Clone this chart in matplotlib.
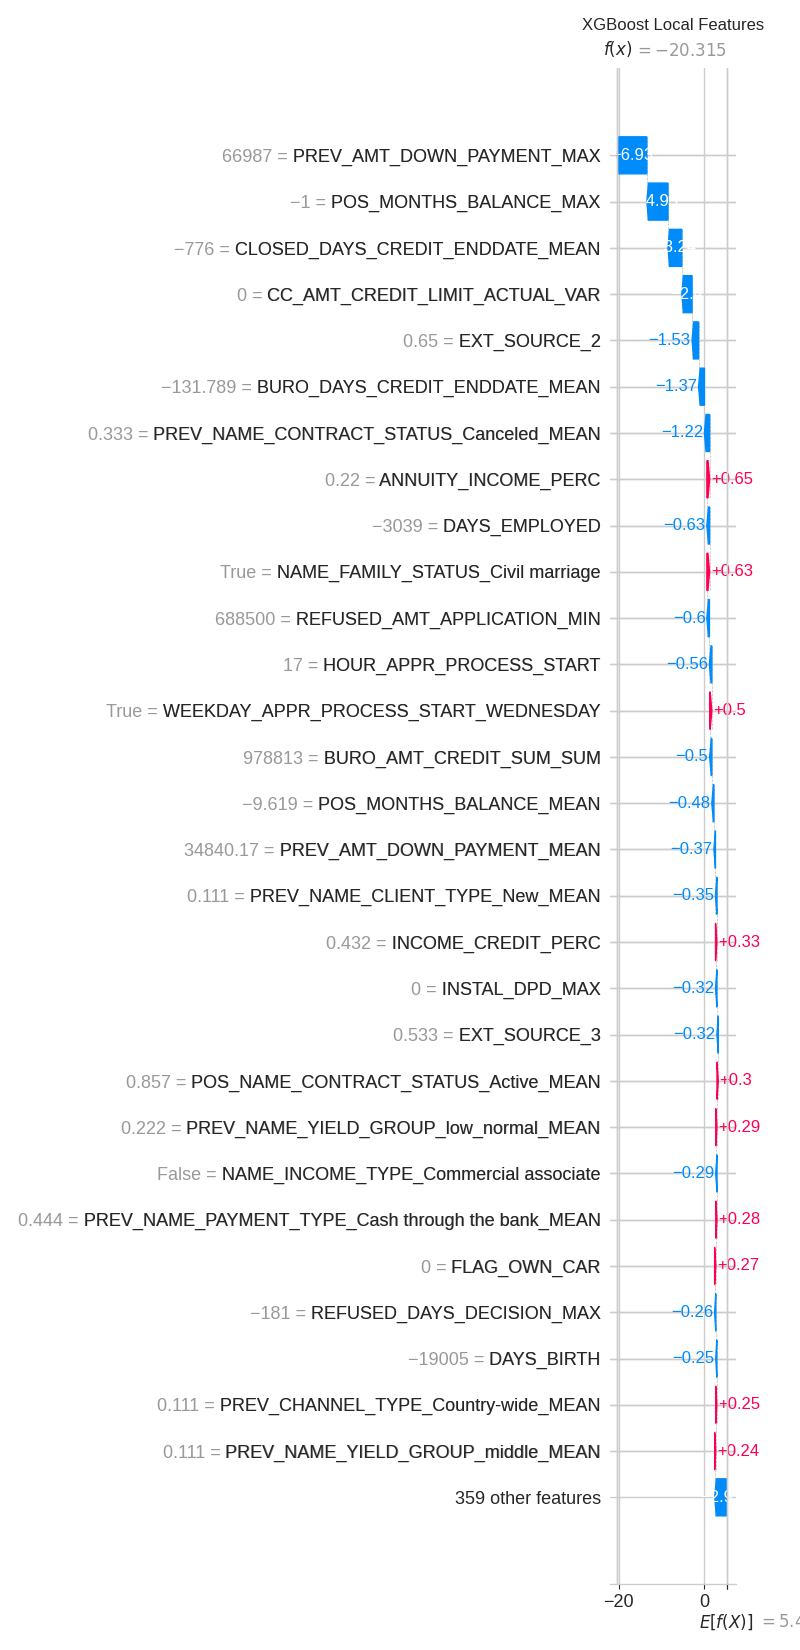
import re
import matplotlib.pyplot as plt
import matplotlib.transforms as mtransforms
import numpy as np
import seaborn as sns

sns.set_style('whitegrid')
plt.rcParams['font.family'] = ['Liberation Sans', 'DejaVu Sans']
plt.rcParams['grid.linewidth'] = 1.0

# data (top row first)
feature_names = ['PREV_AMT_DOWN_PAYMENT_MAX', 'POS_MONTHS_BALANCE_MAX',
                 'CLOSED_DAYS_CREDIT_ENDDATE_MEAN', 'CC_AMT_CREDIT_LIMIT_ACTUAL_VAR',
                 'EXT_SOURCE_2', 'BURO_DAYS_CREDIT_ENDDATE_MEAN',
                 'PREV_NAME_CONTRACT_STATUS_Canceled_MEAN', 'ANNUITY_INCOME_PERC',
                 'DAYS_EMPLOYED', 'NAME_FAMILY_STATUS_Civil marriage',
                 'REFUSED_AMT_APPLICATION_MIN', 'HOUR_APPR_PROCESS_START',
                 'WEEKDAY_APPR_PROCESS_START_WEDNESDAY', 'BURO_AMT_CREDIT_SUM_SUM',
                 'POS_MONTHS_BALANCE_MEAN', 'PREV_AMT_DOWN_PAYMENT_MEAN',
                 'PREV_NAME_CLIENT_TYPE_New_MEAN', 'INCOME_CREDIT_PERC',
                 'INSTAL_DPD_MAX', 'EXT_SOURCE_3',
                 'POS_NAME_CONTRACT_STATUS_Active_MEAN', 'PREV_NAME_YIELD_GROUP_low_normal_MEAN',
                 'NAME_INCOME_TYPE_Commercial associate',
                 'PREV_NAME_PAYMENT_TYPE_Cash through the bank_MEAN',
                 'FLAG_OWN_CAR', 'REFUSED_DAYS_DECISION_MAX', 'DAYS_BIRTH',
                 'PREV_CHANNEL_TYPE_Country-wide_MEAN', 'PREV_NAME_YIELD_GROUP_middle_MEAN']
feature_values = [66987, -1, -776, 0, 0.65, -131.789, 0.333, 0.22, -3039, 'True',
                  688500, 17, 'True', 978813, -9.619, 34840.17, 0.111, 0.432, 0,
                  0.533, 0.857, 0.222, 'False', 0.444, 0, -181, -19005, 0.111, 0.111]
shap_values = [-6.93, -4.95, -3.24, -2.4, -1.53, -1.37, -1.22, 0.65, -0.63, 0.63,
               -0.6, -0.56, 0.5, -0.5, -0.48, -0.37, -0.35, 0.33, -0.32, -0.32,
               0.3, 0.29, -0.29, 0.28, 0.27, -0.26, -0.25, 0.25, 0.24]
n_other = 359
other_value = -2.92
base_value = 5.435
xticks = [-20, 0]
title = 'XGBoost Local Features'

blue = '#008bfb'
red = '#ff0051'
gray = '#999999'


def format_value(s, format_str):
    if not isinstance(s, str):
        s = format_str % s
    s = re.sub(r'\.?0+$', '', s)
    if s[0] == '-':
        s = '\u2212' + s[1:]
    return s


values = np.array(shap_values + [other_value])
n = len(values)
rows = np.arange(n)[::-1]
fx = base_value + values.sum()

fig = plt.figure(figsize=(8, 16.5), dpi=100)
ax = fig.add_axes([0.763, 0.0398, 0.157, 0.9188])
xlim = (-21.93, 7.5)
ax.set_xlim(xlim)
ax.set_ylim(-1.88, n - 1 + 1.88)

# arrow head / label offset as sized on the nominal (wider) axes
xlen = xlim[1] - xlim[0]
to_x = xlen / 6.2
hl = 0.08 * to_x
off = (5 / 72) * to_x
px_per_unit = 6.2 * fig.dpi / xlen
renderer = fig.canvas.get_renderer()

for y in rows:
    ax.axhline(y, color='#cccccc', lw=0.5, dashes=(1, 5), zorder=-1)

loc = fx
for v, y in zip(values, rows):
    loc -= v
    dist = abs(v)
    color = red if v >= 0 else blue
    sign = 1 if v >= 0 else -1
    ax.arrow(loc, y, sign * max(dist - hl, 1e-6), 0, head_length=min(dist, hl),
             color=color, width=0.8, head_width=0.8)
    ax.plot([loc, loc], [y - 1.4, y + 0.4], color='#bbbbbb', linestyle='--',
            linewidth=0.5, zorder=-1)
    label = format_value(v, '%+0.02f')
    txt = ax.text(loc + 0.5 * v, y, label, ha='center', va='center',
                  color='white', fontsize=12)
    if txt.get_window_extent(renderer=renderer).width > dist * px_per_unit:
        txt.remove()
        if v >= 0:
            ax.text(loc + v + off, y, label, ha='left', va='center',
                    color=red, fontsize=12)
        else:
            ax.text(loc + v - off, y, label, ha='right', va='center',
                    color=blue, fontsize=12)

ax.axvline(base_value, 0, 1 / n, color='#bbbbbb', linestyle='--', linewidth=0.5, zorder=-1)
ax.axvline(fx, 0, 1, color='#bbbbbb', linestyle='--', linewidth=0.5, zorder=-1)

full_labels = [format_value(fv, '%0.03f') + ' = ' + name
               for fv, name in zip(feature_values, feature_names)]
ax.set_yticks(list(rows) + list(rows[:-1] + 1e-8))
ax.set_yticklabels(full_labels + ['%d other features' % n_other] +
                   [l.split('=')[-1] for l in full_labels])
ax.set_xticks(xticks)
ax.set_xticklabels([str(t).replace('-', '\u2212') for t in xticks])
ax.tick_params(labelsize=13)
ax.tick_params(axis='both', which='both', left=False, bottom=False)
for i, t in enumerate(ax.yaxis.get_majorticklabels()):
    if i < n - 1:
        t.set_color(gray)
for side in ['right', 'top', 'left']:
    ax.spines[side].set_visible(False)

# E[f(X)] at the bottom
ax2 = ax.twiny()
ax2.set_xlim(xlim)
ax2.xaxis.set_ticks_position('bottom')
ax2.set_xticks([base_value, base_value + 1e-8])
ax2.set_xticklabels(['\n$E[f(X)]$', '\n$ = ' + format_value(base_value, '%0.03f') + '$'],
                    fontsize=12, ha='left')
ax2.tick_params(axis='x', which='both', bottom=False, top=False)
for side in ['right', 'top', 'left']:
    ax2.spines[side].set_visible(False)

# f(x) at the top
ax3 = ax2.twiny()
ax3.set_xlim(xlim)
ax3.set_xticks([fx, fx + 1e-8])
ax3.set_xticklabels(['$f(x)$', '$ = ' + format_value(fx, '%0.03f') + '$'],
                    fontsize=12, ha='left')
ax3.tick_params(axis='x', which='both', bottom=False, top=False)
tl = ax3.xaxis.get_majorticklabels()
tl[0].set_transform(tl[0].get_transform() + mtransforms.ScaledTranslation(-10 / 72., 0, fig.dpi_scale_trans))
tl[1].set_transform(tl[1].get_transform() + mtransforms.ScaledTranslation(12 / 72., 0, fig.dpi_scale_trans))
tl[1].set_color(gray)
for side in ['right', 'top', 'left']:
    ax3.spines[side].set_visible(False)

tl = ax2.xaxis.get_majorticklabels()
tl[0].set_transform(tl[0].get_transform() + mtransforms.ScaledTranslation(-20 / 72., 0, fig.dpi_scale_trans))
tl[1].set_transform(tl[1].get_transform() + mtransforms.ScaledTranslation(22 / 72., -1 / 72., fig.dpi_scale_trans))
tl[1].set_color(gray)

ax3.set_title(title)

fig.savefig('out.png', dpi=100)
